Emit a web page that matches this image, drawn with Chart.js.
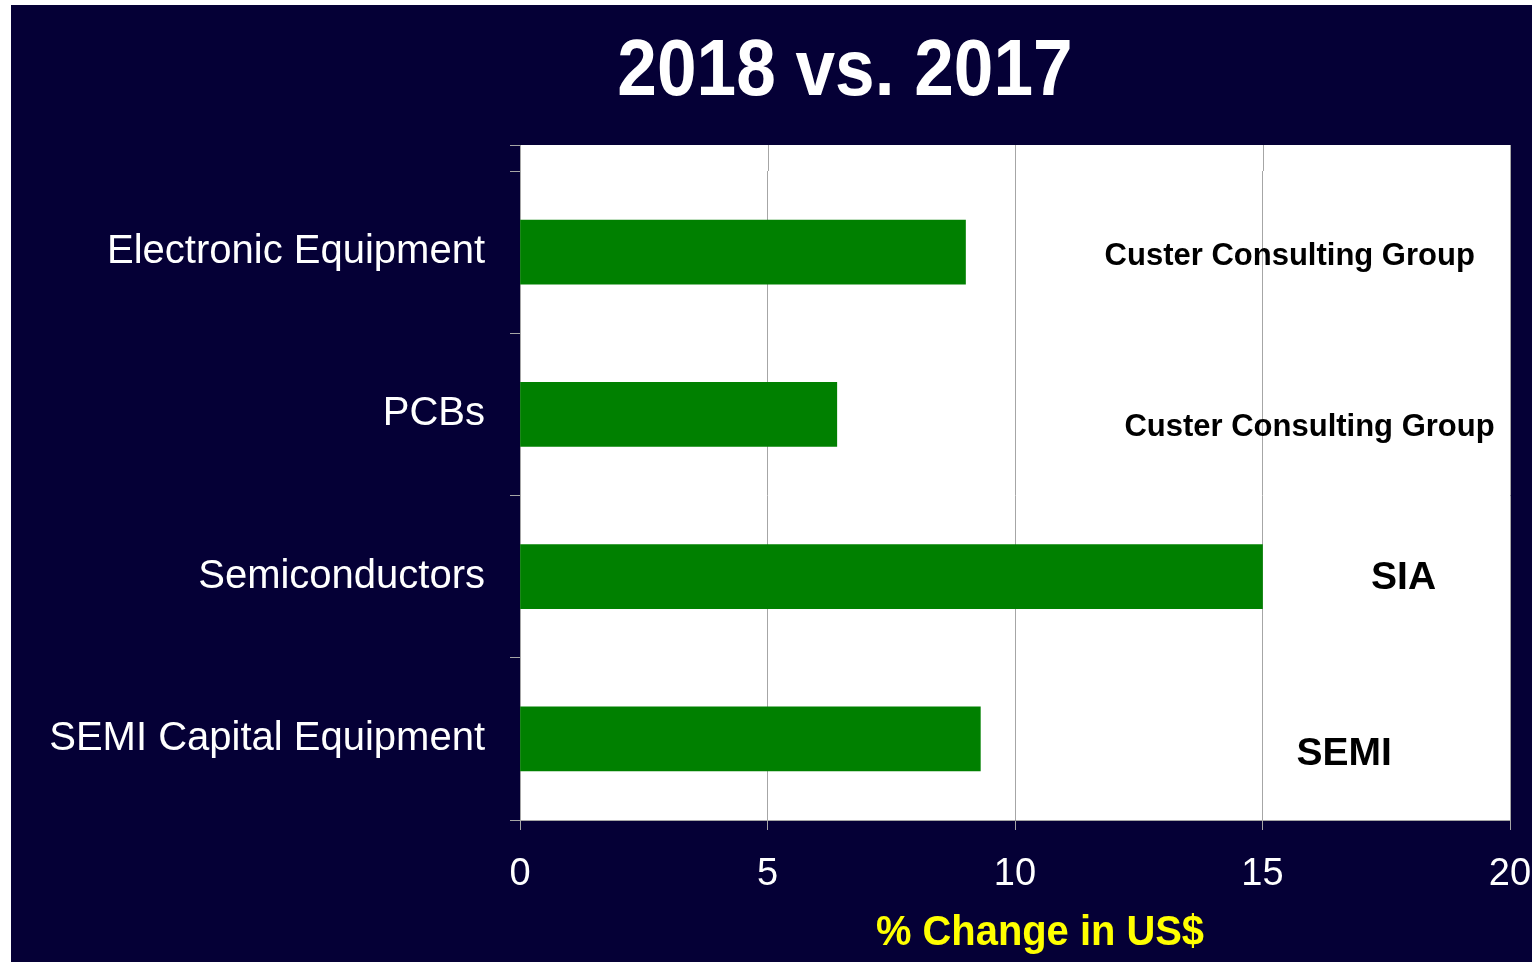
<!DOCTYPE html>
<html>
<head>
<meta charset="utf-8">
<script src="https://cdn.jsdelivr.net/npm/chart.js"></script>
<style>
  html, body { margin: 0; padding: 0; background: #ffffff; }
  #wrap { position: absolute; left: 11px; top: 5px; width: 1521px; height: 957px; background: #050036; }
</style>
</head>
<body>
<div id="wrap"><canvas id="growthChart"></canvas></div>
<script>
// 数据
const categories = ['Electronic Equipment', 'PCBs', 'Semiconductors', 'SEMI Capital Equipment'];
const changeValues = [9.0, 6.4, 15.0, 9.3];
const sourceLabels = ['Custer Consulting Group', 'Custer Consulting Group', 'SIA', 'SEMI'];
const xTicks = [0, 5, 10, 15, 20];
const chartTitle = '2018 vs. 2017';
const xAxisTitle = '% Change in US$';

const FONT = "'Liberation Sans', Arial, sans-serif";
const GRID = '#a6a6a6';

// 白色绘图区背景（顶部多出一截，和原图一致）
const plotBackground = {
    id: 'plotBackground',
    beforeDraw(chart) {
        const { ctx, chartArea: a, scales } = chart;
        const extra = 26;
        ctx.save();
        ctx.fillStyle = '#ffffff';
        ctx.fillRect(a.left, a.top - extra, a.right - a.left, a.bottom - a.top + extra);
        ctx.strokeStyle = GRID;
        ctx.lineWidth = 1;
        ctx.beginPath();
        xTicks.forEach(v => {
            const x = Math.round(scales.x.getPixelForValue(v)) + 0.5;
            ctx.moveTo(x, a.top - extra);
            ctx.lineTo(x, a.top);
        });
        // 左侧轴线向上延伸和顶部刻度
        ctx.moveTo(a.left - 10, a.top - extra + 0.5);
        ctx.lineTo(a.left, a.top - extra + 0.5);
        ctx.stroke();
        ctx.restore();
    }
};

// 标题、坐标轴标题和数据来源标注
const textLayer = {
    id: 'textLayer',
    afterDatasetsDraw(chart) {
        const { ctx, scales, chartArea: a } = chart;
        ctx.save();
        ctx.textAlign = 'center';
        ctx.textBaseline = 'middle';

        // 标题（略窄的字形）
        ctx.fillStyle = '#ffffff';
        ctx.font = 'bold 80px ' + FONT;
        ctx.save();
        ctx.translate(834, 68);
        ctx.scale(0.89, 1);
        ctx.fillText(chartTitle, 0, 0);
        ctx.restore();

        // X 轴标题
        ctx.fillStyle = '#ffff00';
        ctx.font = 'bold 42px ' + FONT;
        ctx.save();
        ctx.translate((a.left + a.right) / 2 + 25, a.bottom + 113);
        ctx.scale(0.95, 1);
        ctx.fillText(xAxisTitle, 0, 0);
        ctx.restore();

        // 来源标注
        const place = [
            { x: 15.55, dy: 4, size: 31 },
            { x: 15.95, dy: 13, size: 31 },
            { x: 17.85, dy: 2, size: 39 },
            { x: 16.65, dy: 15, size: 39 }
        ];
        ctx.fillStyle = '#000000';
        sourceLabels.forEach((t, i) => {
            const p = place[i];
            ctx.font = 'bold ' + p.size + 'px ' + FONT;
            ctx.fillText(t, scales.x.getPixelForValue(p.x), scales.y.getPixelForValue(i) + p.dy);
        });
        ctx.restore();
    }
};

const ctx = document.getElementById('growthChart').getContext('2d');
window.growthChart = new Chart(ctx, {
    type: 'bar',
    data: {
        labels: categories,
        datasets: [{
            label: xAxisTitle,
            data: changeValues,
            backgroundColor: '#008000',
            borderWidth: 0,
            barThickness: 64
        }]
    },
    options: {
        indexAxis: 'y',
        responsive: true,
        maintainAspectRatio: false,
        animation: false,
        layout: { padding: { left: 0, right: 22, top: 166, bottom: 0 } },
        scales: {
            x: {
                min: 0,
                max: 20,
                afterBuildTicks(scale) {
                    scale.ticks = xTicks.map(v => ({ value: v }));
                },
                afterFit(scale) {
                    scale.height = 142;
                    scale.paddingLeft = 0;
                    scale.paddingRight = 0;
                },
                grid: { color: GRID, lineWidth: 1, tickLength: 10, drawTicks: true },
                border: { color: GRID, width: 1 },
                ticks: {
                    color: '#ffffff',
                    padding: 22,
                    maxRotation: 0,
                    font: { family: FONT, size: 38 }
                }
            },
            y: {
                afterFit(scale) { scale.width = 509; },
                grid: { drawOnChartArea: false, drawTicks: true, tickLength: 10, color: GRID, offset: true },
                border: { color: GRID, width: 1 },
                ticks: {
                    color: '#ffffff',
                    padding: 25,
                    font: { family: FONT, size: 40 }
                }
            }
        },
        plugins: {
            legend: { display: false },
            tooltip: { enabled: false },
            title: { display: false }
        }
    },
    plugins: [plotBackground, textLayer]
});
</script>
</body>
</html>
